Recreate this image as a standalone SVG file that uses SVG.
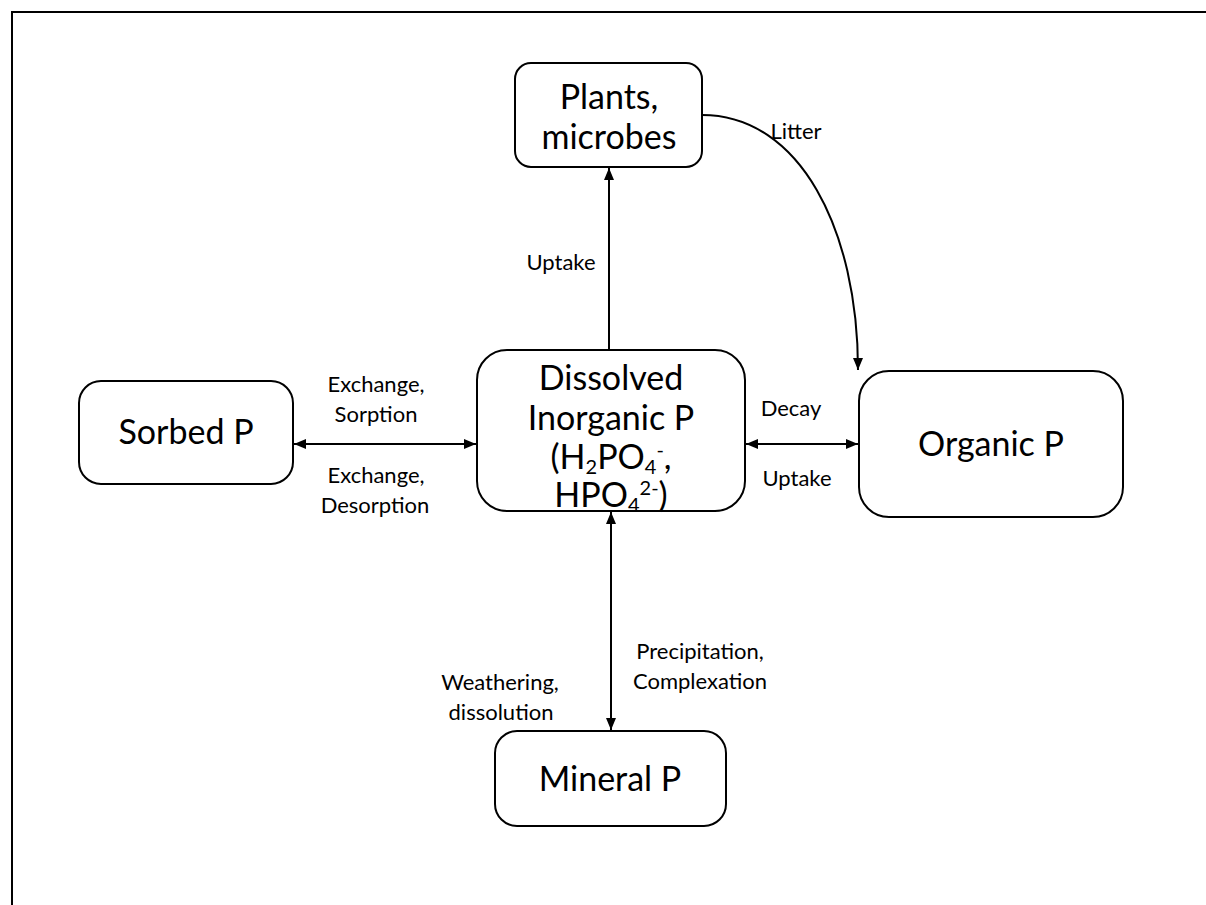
<svg xmlns="http://www.w3.org/2000/svg" width="1206" height="905" viewBox="0 0 1206 905">
<defs>
<style>
.box{fill:#fff;stroke:#000;stroke-width:2}
.big{font-family:Lato,"Liberation Sans",sans-serif;font-size:34px;fill:#000;text-anchor:middle}
.sm{font-family:Lato,"Liberation Sans",sans-serif;font-size:22px;fill:#000;text-anchor:middle}
.ln{fill:none;stroke:#000;stroke-width:2}
.sub{font-size:20px}
</style>
<marker id="ah" viewBox="0 0 12 10" refX="12" refY="5" markerWidth="12" markerHeight="10" markerUnits="userSpaceOnUse" orient="auto-start-reverse">
<path d="M0,0 L12,5 L0,10 Z" fill="#000"/>
</marker>
</defs>
<rect width="1206" height="905" fill="#fff"/>
<rect x="12" y="12" width="1210" height="910" fill="none" stroke="#000" stroke-width="2"/>
<g id="connectors">
<path class="ln" d="M609,350 L609,168" marker-end="url(#ah)"/>
<path class="ln" d="M702,115 C800,115 858,230 858,370" marker-end="url(#ah)"/>
<path class="ln" d="M294,444 L476,444" marker-start="url(#ah)" marker-end="url(#ah)"/>
<path class="ln" d="M746,444 L858,444" marker-start="url(#ah)" marker-end="url(#ah)"/>
<path class="ln" d="M611,512 L611,730" marker-start="url(#ah)" marker-end="url(#ah)"/>
<text class="sm" x="561" y="270">Uptake</text>
<text class="sm" x="796" y="139">Litter</text>
<text class="sm" x="376" y="392">Exchange,</text>
<text class="sm" x="376" y="422">Sorption</text>
<text class="sm" x="376" y="483">Exchange,</text>
<text class="sm" x="375" y="513">Desorption</text>
<text class="sm" x="791" y="416">Decay</text>
<text class="sm" x="797" y="486">Uptake</text>
<text class="sm" x="500" y="690">Weathering,</text>
<text class="sm" x="501" y="720">dissolution</text>
<text class="sm" x="700" y="659">Precipitation,</text>
<text class="sm" x="700" y="689">Complexation</text>
</g>
<g id="plants">
<rect class="box" x="515" y="63" width="187" height="104" rx="16"/>
<text class="big" x="609" y="109">Plants,</text>
<text class="big" x="609" y="149">microbes</text>
</g>
<g id="dissolved">
<rect class="box" x="477" y="350" width="268" height="161" rx="30"/>
<text class="big" x="611" y="390" font-size="33">Dissolved</text>
<text class="big" x="611" y="430" font-size="33">Inorganic P</text>
<text class="big" x="611" y="469" font-size="33">(H<tspan class="sub" dy="5">2</tspan><tspan dy="-5">PO</tspan><tspan class="sub" dy="5">4</tspan><tspan class="sub" dy="-17">-</tspan><tspan dy="12">,</tspan></text>
<text class="big" x="611" y="507" font-size="33">HPO<tspan class="sub" dy="5">4</tspan><tspan class="sub" dy="-17">2-</tspan><tspan dy="12">)</tspan></text>
</g>
<g id="sorbed">
<rect class="box" x="79" y="381" width="214" height="103" rx="22"/>
<text class="big" x="186" y="444">Sorbed P</text>
</g>
<g id="organic">
<rect class="box" x="859" y="371" width="264" height="146" rx="30"/>
<text class="big" x="991" y="456">Organic P</text>
</g>
<g id="mineral">
<rect class="box" x="495" y="731" width="231" height="95" rx="22"/>
<text class="big" x="610" y="791">Mineral P</text>
</g>
</svg>
